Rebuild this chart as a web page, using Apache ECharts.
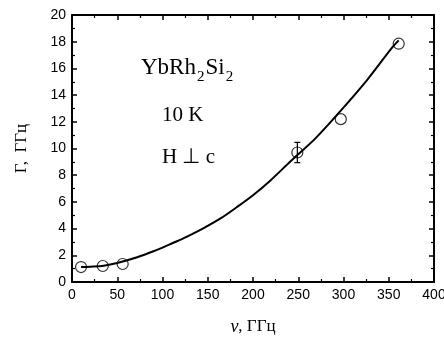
<!DOCTYPE html>
<html>
<head>
<meta charset="utf-8">
<script src="https://cdn.jsdelivr.net/npm/echarts@6/dist/echarts.min.js"></script>
<style>
  html, body { margin: 0; padding: 0; background: #fff; }
  #chart { width: 444px; height: 340px; }
</style>
</head>
<body>
<div id="chart"></div>
<script>
// measured points (open circles)
var pointX = [10, 34, 56, 249, 297, 361]
var pointY = [1.12, 1.2, 1.35, 9.7, 12.2, 17.85]
// error bar on the 250 GHz point
var errX = [249]
var errLow = [8.94]
var errHigh = [10.46]
// fitted curve
var curveX = [10, 20, 35, 50, 72, 90, 108, 123, 145, 165, 182, 200, 219, 241, 250, 269, 296, 326, 353, 361]
var curveY = [1.12, 1.15, 1.22, 1.42, 1.85, 2.3, 2.82, 3.27, 4.02, 4.8, 5.6, 6.5, 7.59, 9.01, 9.57, 10.76, 12.76, 15.13, 17.5, 18.1]

var chart = echarts.init(document.getElementById('chart'))

var sans = 'Liberation Sans'
var serif = 'Liberation Serif'

function frameAxis(extra) {
  var base = {
    axisLine: { show: true, onZero: false, lineStyle: { color: '#000', width: 2 } },
    axisTick: { show: true, inside: true, length: 5, lineStyle: { color: '#000', width: 1.5 } },
    minorTick: { show: true, splitNumber: 2, length: 3, lineStyle: { color: '#000', width: 1.2 } },
    splitLine: { show: false },
    minorSplitLine: { show: false }
  }
  return Object.assign(base, extra)
}

chart.setOption({
  animation: false,
  backgroundColor: '#fff',
  grid: { left: 72, right: 10, top: 15, bottom: 58, outerBoundsMode: 'none' },
  xAxis: [
    frameAxis({
      type: 'value', min: 0, max: 400, interval: 50,
      axisLabel: { color: '#000', fontFamily: sans, fontSize: 14, margin: 6 },
      name: '{i|ν}{n|, ГГц}',
      nameLocation: 'middle',
      nameGap: 36,
      nameTextStyle: {
        rich: {
          i: { fontFamily: serif, fontStyle: 'italic', fontSize: 18, color: '#000' },
          n: { fontFamily: serif, fontSize: 17, color: '#000' }
        }
      }
    }),
    frameAxis({
      type: 'value', min: 0, max: 400, interval: 50, position: 'top',
      axisLabel: { show: false }
    })
  ],
  yAxis: [
    frameAxis({
      type: 'value', min: 0, max: 20, interval: 2,
      axisLabel: { color: '#000', fontFamily: sans, fontSize: 14, margin: 6 },
      name: 'Γ,  ГГц',
      nameLocation: 'middle',
      nameGap: 42,
      nameTextStyle: { fontFamily: serif, fontSize: 17, color: '#000' }
    }),
    frameAxis({
      type: 'value', min: 0, max: 20, interval: 2, position: 'right',
      axisLabel: { show: false }
    })
  ],
  graphic: [
    {
      type: 'text', left: 141, top: 56,
      style: {
        text: '{a|YbRh}{s|2}{a|Si}{s|2}',
        rich: {
          a: { fontFamily: serif, fontSize: 23, fill: '#000', verticalAlign: 'bottom' },
          s: { fontFamily: serif, fontSize: 15, fill: '#000', padding: [0, 1, -6, 1], verticalAlign: 'bottom' }
        }
      }
    },
    {
      type: 'text', left: 162, top: 105,
      style: { text: '10 K', fontFamily: serif, fontSize: 21, fill: '#000' }
    },
    {
      type: 'text', left: 162, top: 147,
      style: { text: 'H ⊥ c', fontFamily: serif, fontSize: 21, fill: '#000' }
    }
  ],
  series: [
    {
      type: 'line',
      data: curveX.map(function (x, i) { return [x, curveY[i]] }),
      smooth: 0.3,
      showSymbol: false,
      lineStyle: { color: '#000', width: 2 },
      z: 2
    },
    {
      type: 'custom',
      data: errX.map(function (x, i) { return [x, errLow[i], errHigh[i]] }),
      renderItem: function (params, api) {
        var lo = api.coord([api.value(0), api.value(1)])
        var hi = api.coord([api.value(0), api.value(2)])
        var w = 3
        var st = { stroke: '#000', lineWidth: 1.2 }
        return {
          type: 'group',
          children: [
            { type: 'line', shape: { x1: lo[0], y1: lo[1], x2: hi[0], y2: hi[1] }, style: st },
            { type: 'line', shape: { x1: lo[0] - w, y1: lo[1], x2: lo[0] + w, y2: lo[1] }, style: st },
            { type: 'line', shape: { x1: hi[0] - w, y1: hi[1], x2: hi[0] + w, y2: hi[1] }, style: st }
          ]
        }
      },
      z: 3
    },
    {
      type: 'scatter',
      data: pointX.map(function (x, i) { return [x, pointY[i]] }),
      symbol: 'circle',
      symbolSize: 11,
      itemStyle: { color: 'rgba(255,255,255,0)', borderColor: '#000', borderWidth: 1.2 },
      z: 4
    }
  ]
})
</script>
</body>
</html>
